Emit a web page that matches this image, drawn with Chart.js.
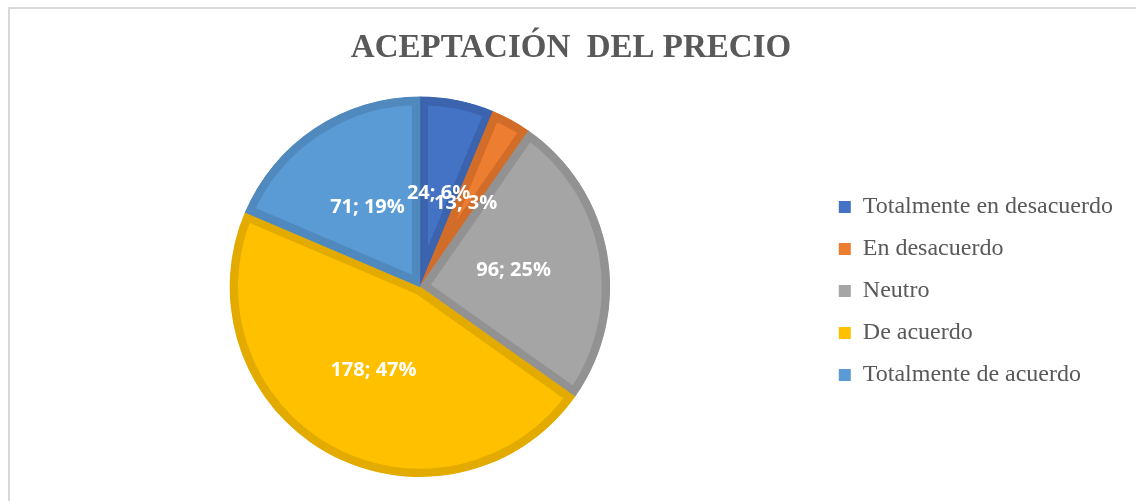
<!DOCTYPE html>
<html>
<head>
<meta charset="utf-8">
<script src="https://cdn.jsdelivr.net/npm/chart.js@4.4.4/dist/chart.umd.min.js"></script>
<style>
  html, body { margin: 0; padding: 0; background: #fff; overflow: hidden; }
  #frame {
    position: absolute; left: 8px; top: 7px; width: 2000px; height: 2000px;
    border-left: 2px solid #d9d9d9; border-top: 2px solid #d9d9d9;
  }
  #wrap { position: absolute; left: 0; top: 0; width: 1136px; height: 501px; }
</style>
</head>
<body>
<div id="frame"></div>
<div id="wrap"><canvas id="chart"></canvas></div>
<script>
// ─── Data ────────────────────────────────────────────────────────────────────
const TITLE      = 'ACEPTACIÓN  DEL PRECIO';
const categories = ['Totalmente en desacuerdo', 'En desacuerdo', 'Neutro', 'De acuerdo', 'Totalmente de acuerdo'];
const counts     = [24, 13, 96, 178, 71];

const fills   = ['#4472C4', '#ED7D31', '#A5A5A5', '#FFC000', '#5B9BD5'];
const borders = ['#3B63AE', '#D26C29', '#929292', '#E3AB00', '#4F89BE'];

// ─── Value labels ("n; p%") drawn at slice centroids ─────────────────────────
const sliceLabels = {
  id: 'sliceLabels',
  afterDatasetsDraw(chart) {
    const { ctx } = chart;
    const meta  = chart.getDatasetMeta(0);
    const total = counts.reduce((a, b) => a + b, 0);
    ctx.save();
    ctx.font = "bold 20px 'Open Sans', sans-serif";
    ctx.fillStyle = '#ffffff';
    ctx.textAlign = 'center';
    ctx.textBaseline = 'middle';
    meta.data.forEach((arc, i) => {
      const p   = arc.tooltipPosition();
      const pct = Math.round(counts[i] / total * 100);
      ctx.fillText(`${counts[i]}; ${pct}%`, p.x, p.y);
    });
    ctx.restore();
  },
};

Chart.defaults.animation = false;

const serif = "'Liberation Serif', 'Times New Roman', serif";

new Chart(document.getElementById('chart'), {
  type: 'pie',
  data: {
    labels: categories,
    datasets: [{
      data: counts,
      backgroundColor: fills,
      borderColor: borders,
      borderWidth: 8,
      borderAlign: 'inner',
    }],
  },
  options: {
    responsive: true,
    maintainAspectRatio: false,
    events: [],
    layout: { padding: { top: 8, left: 19, right: 13, bottom: 24 } },
    plugins: {
      title: {
        display: true,
        text: TITLE,
        color: '#595959',
        font: { family: serif, size: 33, weight: 'bold' },
        padding: { top: 21, bottom: 28 },
      },
      legend: {
        position: 'right',
        // empty title just pushes the item column down under the chart title
        title: { display: true, text: '', font: { size: 10, lineHeight: 1 }, padding: { top: 87, bottom: 0 } },
        labels: {
          color: '#595959',
          font: { family: serif, size: 24 },
          boxWidth: 12,
          boxHeight: 12,
          padding: 18,
          generateLabels(chart) {
            const base = Chart.overrides.pie.plugins.legend.labels.generateLabels(chart);
            return base.map(l => ({ ...l, lineWidth: 0, strokeStyle: l.fillStyle }));
          },
        },
      },
      tooltip: { enabled: false },
    },
  },
  plugins: [sliceLabels],
});
</script>
</body>
</html>
